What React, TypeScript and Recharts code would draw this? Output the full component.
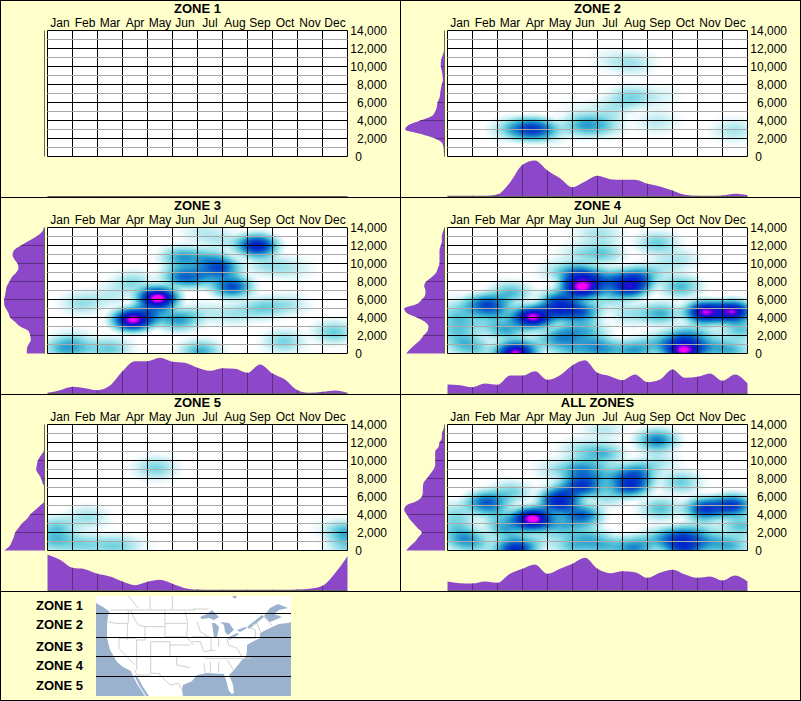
import { ComposedChart, ScatterChart, Scatter, Area, XAxis, YAxis, CartesianGrid, ReferenceLine } from "recharts";

const FONT = "'Liberation Sans', Arial, sans-serif";
const PURPLE = "#8c48c8";
const PURPLE_DARK = "#5a2f80";
const BASE = "#66665a";
const OCEAN = "#9ab2cd";

const months = ["Jan", "Feb", "Mar", "Apr", "May", "Jun", "Jul", "Aug", "Sep", "Oct", "Nov", "Dec"];
const monthCenters = [0.5, 1.5, 2.5, 3.5, 4.5, 5.5, 6.5, 7.5, 8.5, 9.5, 10.5, 11.5];
const monthEdges = [0, 1, 2, 3, 4, 5, 6, 7, 8, 9, 10, 11, 12];
const elevTicks = [0, 2000, 4000, 6000, 8000, 10000, 12000, 14000];
const elevDots = [1000, 3000, 5000, 7000, 9000, 11000, 13000];
const frameCorners = [{ m: 0, e: 0 }, { m: 12, e: 14000 }];
const halfMonths = [0, 0.5, 1, 1.5, 2, 2.5, 3, 3.5, 4, 4.5, 5, 5.5, 6, 6.5, 7, 7.5, 8, 8.5, 9, 9.5, 10, 10.5, 11, 11.5, 12];
const elevSteps = [0, 500, 1000, 1500, 2000, 2500, 3000, 3500, 4000, 4500, 5000, 5500, 6000, 6500, 7000, 7500, 8000, 8500, 9000, 9500, 10000, 10500, 11000, 11500, 12000, 12500, 13000, 13500, 14000];

// month distribution under each plot
const zone1Months = [1, 1, 1, 1, 1, 1, 1, 1, 1, 1, 1, 1, 1, 1, 1, 1, 1, 1, 1, 1, 1, 1, 1, 1, 1];
const zone2Months = [2, 2, 2, 2, 6, 42, 95, 108, 78, 55, 28, 45, 62, 52, 50, 50, 38, 30, 18, 5, 2, 2, 3, 8, 4];
const zone3Months = [2, 10, 20, 16, 10, 24, 67, 97, 97, 107, 95, 92, 77, 68, 76, 74, 62, 87, 60, 42, 10, 2, 5, 9, 2];
const zone4Months = [27, 25, 19, 30, 26, 54, 54, 67, 41, 55, 85, 100, 62, 52, 40, 57, 34, 42, 72, 47, 50, 60, 38, 57, 30];
const zone5Months = [108, 92, 68, 64, 50, 42, 27, 16, 26, 32, 20, 7, 3, 2, 2, 2, 2, 2, 2, 2, 3, 5, 14, 52, 103];
const allMonths = [27, 22, 21, 27, 23, 50, 65, 78, 50, 65, 80, 98, 65, 52, 58, 55, 38, 53, 62, 48, 38, 42, 30, 45, 27];

// elevation distribution left of each plot
const zone1Elev = [0, 0, 0, 0, 0, 0, 0, 0, 0, 0, 0, 0, 0, 0, 0, 0, 0, 0, 0, 0, 0, 0, 0, 0, 0, 0, 0, 0, 0];
const zone2Elev = [1, 2, 3, 7, 28, 70, 118, 108, 73, 38, 28, 23, 21, 15, 13, 11, 8, 5, 6, 8, 11, 11, 8, 3, 1, 0, 0, 0, 0];
const zone3Elev = [53, 53, 48, 41, 43, 48, 73, 88, 103, 108, 116, 121, 121, 118, 116, 113, 105, 98, 85, 78, 81, 91, 96, 91, 71, 48, 25, 8, 2];
const zone4Elev = [115, 103, 88, 73, 63, 51, 48, 58, 83, 113, 121, 83, 68, 58, 57, 61, 55, 38, 25, 20, 15, 15, 15, 15, 11, 8, 8, 5, 0];
const zone5Elev = [121, 105, 98, 92, 88, 78, 68, 53, 43, 28, 13, 0, 0, 0, 0, 6, 10, 18, 25, 23, 20, 12, 3, 0, 0, 0, 0, 0, 0];
const allElev = [115, 103, 88, 78, 68, 81, 93, 105, 113, 121, 115, 83, 68, 65, 65, 63, 53, 43, 33, 28, 28, 28, 28, 18, 15, 8, 8, 3, 0];

// heat samples: month position, elevation, strength
type Heat = [number, number, number];
const zone1Heat: Heat[] = [];
const zone2Heat: Heat[] = [
  [3.36, 3100, 0.56], [2.6, 3100, 0.25], [4.0, 2900, 0.2], [5.43, 3500, 0.3], [6.2, 3500, 0.2],
  [6.5, 5350, 0.12], [7.3, 6650, 0.2], [8.36, 6650, 0.07], [8.36, 3900, 0.1], [7.43, 10400, 0.12],
  [6.6, 10700, 0.07], [11.43, 2950, 0.13], [5.3, 5000, 0.05],
];
const zone3Heat: Heat[] = [
  [4.39, 6200, 1.0], [3.39, 3800, 0.95], [8.36, 12050, 0.72], [7.36, 7500, 0.55], [6.9, 9550, 0.52],
  [5.36, 8600, 0.42], [5.36, 10700, 0.35], [6.36, 10500, 0.28], [6.1, 8600, 0.3], [5.2, 3800, 0.35],
  [4.1, 4500, 0.35], [3.4, 7900, 0.18], [1.36, 5650, 0.16], [2.5, 6500, 0.1], [0.63, 600, 0.28],
  [1.43, 600, 0.14], [2.5, 600, 0.22], [1, 1500, 0.12], [6.1, 300, 0.3], [8.56, 5100, 0.22],
  [9.56, 5450, 0.14], [7.43, 4500, 0.14], [9.43, 1400, 0.2], [11.43, 2400, 0.22], [8.76, 9900, 0.15],
  [9.7, 9500, 0.1], [7.1, 12500, 0.1], [6.2, 13400, 0.1], [6.1, 4500, 0.12],
];
const zone4Heat: Heat[] = [
  [3.39, 4100, 0.95], [9.43, 450, 0.95], [5.36, 7450, 0.95], [5.5, 8000, 0.25], [7.25, 7450, 0.7], [10.3, 4650, 0.9],
  [11.36, 4700, 0.88], [2.7, 150, 0.9], [1.56, 5450, 0.55], [4.43, 4900, 0.6], [4.5, 6000, 0.45],
  [5.3, 4700, 0.5], [5.3, 8800, 0.5], [6.36, 8250, 0.4], [7.5, 8450, 0.5], [9.43, 1750, 0.4],
  [2.36, 2700, 0.32], [2.1, 4500, 0.2], [4.5, 1750, 0.32], [4.9, 2500, 0.2], [2.5, 6750, 0.28],
  [8.5, 4500, 0.3], [9.3, 7500, 0.28], [8.36, 12300, 0.22], [6.2, 11200, 0.22], [5.3, 11200, 0.13],
  [4.5, 9200, 0.16], [9.2, 10500, 0.12], [8.36, 9350, 0.12], [6.36, 6400, 0.2], [5.7, 13400, 0.05],
  [6.2, 13300, 0.1], [0.63, 1200, 0.25], [0.3, 2700, 0.2], [0.36, 4150, 0.2], [1.3, 3400, 0.15],
  [0.63, 5300, 0.12], [7.43, 450, 0.35], [6.2, 450, 0.3], [5, 450, 0.25], [8.5, 1200, 0.28],
  [10.36, 800, 0.3], [11.3, 450, 0.28], [11.7, 2700, 0.25], [10.1, 2300, 0.15], [5.55, 2700, 0.22],
  [5.8, 1200, 0.22], [7.3, 4500, 0.15], [3.55, 1200, 0.15], [1.2, 450, 0.15],
];
const zone5Heat: Heat[] = [
  [4.3, 9200, 0.2], [0.36, 2600, 0.22], [0.3, 1100, 0.25], [1.56, 3700, 0.15], [1.43, 750, 0.2],
  [2.63, 560, 0.2], [12, 2000, 0.28], [11.5, 2400, 0.08], [11.95, 500, 0.18], [3.4, 500, 0.05],
];
const allHeat: Heat[] = [
  [3.39, 3570, 1.0], [2.7, 200, 0.68], [9.43, 400, 0.55], [9.36, 1500, 0.5], [4.43, 5250, 0.6],
  [4.55, 6200, 0.45], [1.53, 5400, 0.5], [5.36, 7300, 0.62], [5.36, 9000, 0.4], [7.3, 7300, 0.62],
  [7.5, 8600, 0.45], [6.36, 8400, 0.25], [10.3, 4700, 0.62], [11.36, 5050, 0.62], [5.36, 3950, 0.5],
  [4.5, 2800, 0.3], [2.5, 6500, 0.22], [8.36, 12300, 0.42], [6.2, 10800, 0.28], [5.3, 11200, 0.15],
  [8.5, 4700, 0.25], [9.3, 7650, 0.22], [0.63, 1350, 0.35], [0.3, 2800, 0.18], [0.36, 4300, 0.15],
  [2.36, 2450, 0.32], [2.1, 3950, 0.2], [7.43, 400, 0.4], [6.2, 600, 0.28], [5, 600, 0.25],
  [8.5, 1350, 0.28], [10.36, 970, 0.3], [11.3, 600, 0.28], [11.7, 2800, 0.25], [10.1, 2450, 0.15],
  [5.55, 1700, 0.22], [3.55, 1350, 0.15], [8.36, 9900, 0.14], [6.36, 6200, 0.18], [6.2, 13400, 0.1],
  [4.36, 9000, 0.14], [1.2, 600, 0.15],
];

const legendNames = ["ZONE 1", "ZONE 2", "ZONE 3", "ZONE 4", "ZONE 5"];
const legendCenters = [605.5, 625, 646.5, 666, 686];
const mapLines = [613, 637, 656, 676];

// colour ramp for the heat layer, indexed by accumulated alpha
const rampR = "1 0.72 0.45 0.22 0.08 0.03 0 0 0.35 1 1";
const rampG = "1 0.92 0.83 0.68 0.5 0.32 0.2 0.1 0 0 0.08";
const rampB = "1 0.94 0.88 0.82 0.8 0.78 0.78 0.8 0.85 1 0.75";

function Defs() {
  return (
    <svg width={0} height={0} style={{ position: "absolute" }}>
      <defs>
        <radialGradient id="blob">
          <stop offset="0" stopColor="#000" stopOpacity={1} />
          <stop offset="0.2" stopColor="#000" stopOpacity={0.85} />
          <stop offset="0.4" stopColor="#000" stopOpacity={0.6} />
          <stop offset="0.6" stopColor="#000" stopOpacity={0.33} />
          <stop offset="0.8" stopColor="#000" stopOpacity={0.12} />
          <stop offset="1" stopColor="#000" stopOpacity={0} />
        </radialGradient>
        <filter id="heatColors" colorInterpolationFilters="sRGB">
          <feColorMatrix type="matrix" values="0 0 0 1 0  0 0 0 1 0  0 0 0 1 0  0 0 0 0 1" />
          <feComponentTransfer>
            <feFuncR type="table" tableValues={rampR} />
            <feFuncG type="table" tableValues={rampG} />
            <feFuncB type="table" tableValues={rampB} />
          </feComponentTransfer>
        </filter>
      </defs>
    </svg>
  );
}

const Blob = ({ cx, cy, payload }: any) => (
  <ellipse cx={cx} cy={cy} rx={30} ry={17} fill="url(#blob)" fillOpacity={payload.w} />
);
const NoMark = () => <g />;

function HeatLayer({ heat }: { heat: Heat[] }) {
  const data = heat.map(([m, e, w]) => ({ m, e, w }));
  return (
    <div style={{ position: "absolute", left: 48, top: 31, width: 300, height: 126, overflow: "hidden", background: "#fff" }}>
      <div style={{ width: 300, height: 126, filter: "url(#heatColors)" }}>
        <ScatterChart width={300} height={126} margin={{ top: 0, right: 0, bottom: 0, left: 0 }}>
          <XAxis type="number" dataKey="m" domain={[0, 12]} hide allowDataOverflow />
          <YAxis type="number" dataKey="e" domain={[0, 14000]} hide allowDataOverflow />
          <Scatter data={data} shape={Blob} isAnimationActive={false} />
        </ScatterChart>
      </div>
    </div>
  );
}

function Frame() {
  const tickStyle = { fontFamily: FONT, fontSize: 12, fill: "#000" };
  const monthTick = ({ x, payload }: any) => (
    <text x={x} y={27} textAnchor="middle" {...tickStyle}>
      {months[Math.floor(payload.value)]}
    </text>
  );
  const elevTick = ({ y, payload }: any) => (
    <text x={payload.value === 0 ? 362 : 387} y={y + 4} textAnchor="end" {...tickStyle}>
      {payload.value.toLocaleString("en-US")}
    </text>
  );
  return (
    <div style={{ position: "absolute", left: 0, top: 0 }}>
      <ScatterChart width={400} height={170} margin={{ top: 10.5, right: 12.5, bottom: 13.5, left: 47.5 }}>
        <CartesianGrid horizontalValues={elevTicks} verticalValues={monthEdges} stroke="#000" />
        <XAxis type="number" dataKey="m" orientation="top" height={20} domain={[0, 12]} ticks={monthCenters} interval={0} tick={monthTick} tickLine={false} axisLine={false} />
        <YAxis type="number" dataKey="e" orientation="right" width={40} domain={[0, 14000]} ticks={elevTicks} interval={0} tick={elevTick} tickLine={false} axisLine={false} />
        {elevDots.map((e) => (
          <ReferenceLine key={`w${e}`} y={e} stroke="#fff" />
        ))}
        {elevDots.map((e) => (
          <ReferenceLine key={`d${e}`} y={e} stroke="#555" strokeDasharray="1 1" />
        ))}
        <Scatter data={frameCorners} shape={NoMark} isAnimationActive={false} />
      </ScatterChart>
    </div>
  );
}

function MonthMargin({ values }: { values: number[] }) {
  const data = halfMonths.map((x, i) => ({ x, v: values[i] }));
  const monthDot = ({ cx, cy, index }: any) =>
    index % 2 === 0 && index > 0 && index < 24 ? (
      <line key={index} x1={cx} x2={cx} y1={cy} y2={37.5} stroke={PURPLE_DARK} />
    ) : (
      <g key={index} />
    );
  return (
    <div style={{ position: "absolute", left: 47, top: 159 }}>
      <ComposedChart width={301} height={39} data={data} margin={{ top: 0.5, right: 0.5, bottom: 0.5, left: 0.5 }}>
        <XAxis type="number" dataKey="x" domain={[0, 12]} height={1} tick={false} tickLine={false} axisLine={{ stroke: BASE }} />
        <YAxis type="number" domain={[0, 111]} hide />
        <Area type="monotone" dataKey="v" fill={PURPLE} fillOpacity={1} stroke="none" dot={monthDot} isAnimationActive={false} />
      </ComposedChart>
    </div>
  );
}

function ElevMargin({ values }: { values: number[] }) {
  const data = elevSteps.map((e, i) => ({ e, v: values[i] }));
  const elevDot = ({ cx, cy, index }: any) =>
    index % 4 === 0 && index > 0 && index < 28 ? (
      <line key={index} x1={cx} x2={41.5} y1={cy} y2={cy} stroke={PURPLE_DARK} />
    ) : (
      <g key={index} />
    );
  return (
    <div style={{ position: "absolute", left: 3, top: 30 }}>
      <ComposedChart layout="vertical" width={43} height={127} data={data} margin={{ top: 0.5, right: 0.5, bottom: 0.5, left: 0.5 }}>
        <XAxis type="number" domain={[0, 123]} reversed hide />
        <YAxis type="number" dataKey="e" orientation="right" reversed domain={[0, 14000]} width={1} tick={false} tickLine={false} axisLine={{ stroke: BASE }} />
        <Area type="monotone" dataKey="v" fill={PURPLE} fillOpacity={1} stroke="none" dot={elevDot} isAnimationActive={false} />
      </ComposedChart>
    </div>
  );
}

function Panel({ title, col, row, heat, monthVals, elevVals }: { title: string; col: number; row: number; heat: Heat[]; monthVals: number[]; elevVals: number[] }) {
  return (
    <div style={{ position: "absolute", left: col * 400, top: row * 197, width: 400, height: 197 }}>
      <div style={{ position: "absolute", left: 47.5, width: 300, top: 1, textAlign: "center", font: `bold 13px ${FONT}`, lineHeight: "16px", color: "#000" }}>{title}</div>
      <HeatLayer heat={heat} />
      <Frame />
      <MonthMargin values={monthVals} />
      <ElevMargin values={elevVals} />
    </div>
  );
}

// map is a picture in the original, traced by hand
function NorthAmerica() {
  return (
    <svg width={801} height={701} style={{ position: "absolute", left: 0, top: 0 }}>
      <rect x={96} y={596} width={195} height={100} fill="#fff" />
      <g fill={OCEAN}>
        <polygon points="96,603 103,607 110,612 108,615 107,625 107,638 110,650 117,662 123,667 131,671 133,676 137,684 145,696 96,696" />
        <polygon points="134,675 137,676 143,687 149,696 146,696 139,685" />
        <polygon points="183,696 182,690 183,685 190,682 192,681 197,675 207,673 224,674 226,680 229,691 232,694 234,693 233,685 229,675 234,670 242,660 246,657 247,650 247,645 252,642 260,638 260,633 266,630 272,627 279,624 288,623 291,622 291,696" />
        <polygon points="200,617 207,614 212,610 219,617 214,620 209,618 202,619" />
        <polygon points="212,623 214,637 217,637 219,627 215,623" />
        <polygon points="220,622 229,623 234,630 228,635 225,632 224,625" />
        <polygon points="227,638 237,633 239,634 230,640" />
        <polygon points="237,630 245,627 247,628 240,632" />
        <polygon points="247,627 262,615 264,617 249,629" />
        <polygon points="264,616 270,608 278,604 288,608 279,610 274,614 282,617 270,622" />
        <polygon points="232,596 237,596 235,599" />
      </g>
      <g transform="translate(95,595) scale(0.3333)" fill="none" stroke="#cfcfcf" strokeWidth={3}>
        <path d="M100,3 L130,40 M165,3 V42 M232,3 V42 M45,45 H300 M100,45 V75 L97,100 M40,80 L60,85 L97,85 M108,45 L115,65 L130,90 L150,95 M150,95 V135 H125 M97,100 V135 M72,130 H125 M72,130 V160 L120,210 M125,135 V225 M125,185 H225 M167,140 H225 V185 M167,140 V235 M210,45 V125 M150,95 H210 M210,85 H275 M210,125 H275 M225,150 H285 M225,185 H285 M245,185 V210 L285,218 M167,235 H195 L195,245 M120,225 L125,240 L167,240 M195,240 L225,270 L250,265 L262,285 M270,50 L278,85 L275,125 L295,150" />
      </g>
      <g transform="translate(192,595) scale(0.3333)" fill="none" stroke="#cfcfcf" strokeWidth={3}>
        <path d="M3,42 H50 M15,80 L25,110 L57,130 M0,125 H55 M0,140 H25 L35,170 L70,165 M57,130 V165 M80,130 V155 M105,130 L110,150 L135,160 M40,190 H175 M35,205 L40,235 M55,200 V235 M80,200 V232 M105,195 L125,225 M135,160 L150,185 M0,185 H45 M170,95 L190,105 V130 M105,130 H190 M180,90 L195,85 L205,110 M210,60 L240,90" />
      </g>
      {mapLines.map((y) => (
        <line key={y} x1={96} x2={291} y1={y + 0.5} y2={y + 0.5} stroke="#000" />
      ))}
    </svg>
  );
}

function Rule({ x, y, w, h }: { x: number; y: number; w: number; h: number }) {
  return <div style={{ position: "absolute", left: x, top: y, width: w, height: h, background: "#000" }} />;
}

export default function App() {
  return (
    <div style={{ position: "absolute", left: 0, top: 0, width: 801, height: 701, background: "#ffffcc", overflow: "hidden" }}>
      <Defs />
      <Panel title="ZONE 1" col={0} row={0} heat={zone1Heat} monthVals={zone1Months} elevVals={zone1Elev} />
      <Panel title="ZONE 2" col={1} row={0} heat={zone2Heat} monthVals={zone2Months} elevVals={zone2Elev} />
      <Panel title="ZONE 3" col={0} row={1} heat={zone3Heat} monthVals={zone3Months} elevVals={zone3Elev} />
      <Panel title="ZONE 4" col={1} row={1} heat={zone4Heat} monthVals={zone4Months} elevVals={zone4Elev} />
      <Panel title="ZONE 5" col={0} row={2} heat={zone5Heat} monthVals={zone5Months} elevVals={zone5Elev} />
      <Panel title="ALL ZONES" col={1} row={2} heat={allHeat} monthVals={allMonths} elevVals={allElev} />
      <Rule x={0} y={0} w={801} h={1} />
      <Rule x={0} y={197} w={801} h={1} />
      <Rule x={0} y={394} w={801} h={1} />
      <Rule x={0} y={591} w={801} h={1} />
      <Rule x={0} y={700} w={801} h={1} />
      <Rule x={0} y={0} w={1} h={701} />
      <Rule x={800} y={0} w={1} h={701} />
      <Rule x={400} y={0} w={1} h={591} />
      <NorthAmerica />
      {legendNames.map((name, i) => (
        <div key={name} style={{ position: "absolute", left: 0, width: 83, top: legendCenters[i] - 8, textAlign: "right", font: `bold 13px ${FONT}`, lineHeight: "16px", color: "#000" }}>
          {name}
        </div>
      ))}
    </div>
  );
}
